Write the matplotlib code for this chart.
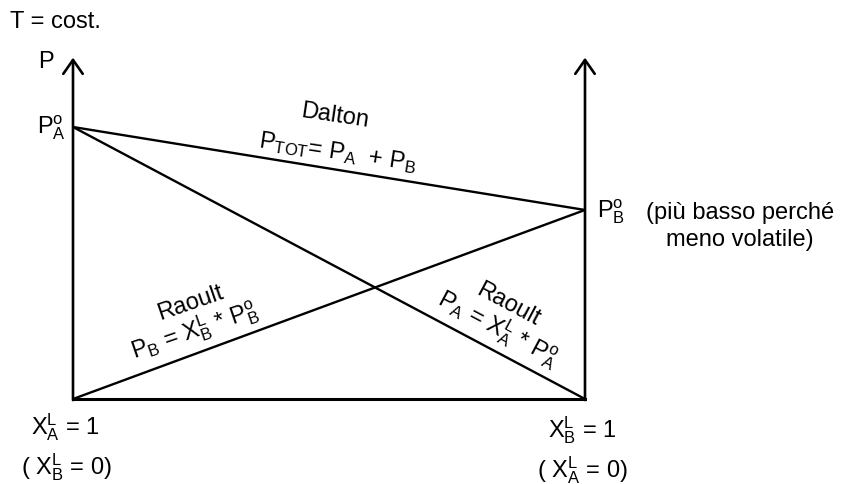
import matplotlib
matplotlib.use("Agg")
import matplotlib.pyplot as plt
import numpy as np

# ---- data (mole fraction of B on x, pressure on y) ----
x_B = [0.0, 1.0]            # X_B^L from 0 (pure A) to 1 (pure B)
P_A_star = 1.00             # vapour pressure of pure A
P_B_star = 0.695            # vapour pressure of pure B (lower, less volatile)
P_axis_top = 1.255          # top of the drawn pressure axes

plt.rcParams['font.family'] = ['Liberation Sans', 'DejaVu Sans']
plt.rcParams['mathtext.fontset'] = 'custom'
plt.rcParams['mathtext.rm'] = 'Liberation Sans'
plt.rcParams['mathtext.it'] = 'Liberation Sans'
plt.rcParams['mathtext.bf'] = 'Liberation Sans:bold'
plt.rcParams['mathtext.default'] = 'regular'

W, H = 851, 485
fig = plt.figure(figsize=(W / 100, H / 100), dpi=100)
L, R, B0, PT = 73, 585, 400, 128  # pixel frame of the diagram
ax = fig.add_axes([L / W, (H - B0) / H, (R - L) / W, (B0 - PT) / H])
ax.set_xlim(0, 1)
ax.set_ylim(0, 1)
ax.axis('off')

def dx(px):
    return (px - L) / (R - L)

def dy(py):
    return (B0 - py) / (B0 - PT)

FS = 17
k = 'black'
DEG = 'o'

# partial pressure lines and total
P_A = [P_A_star * (1 - xb) for xb in x_B]
P_B = [P_B_star * xb for xb in x_B]
P_tot = [a + b for a, b in zip(P_A, P_B)]
ax.plot(x_B, P_A, color=k, lw=1.7, clip_on=False, solid_capstyle='butt')
ax.plot(x_B, P_B, color=k, lw=1.7, clip_on=False, solid_capstyle='butt')
ax.plot(x_B, P_tot, color=k, lw=1.7, clip_on=False, solid_capstyle='butt')
# bottom baseline
ax.plot(x_B, [0, 0], color=k, lw=2.2, clip_on=False, solid_capstyle='projecting')

# vertical axes with open arrowheads
for xv in x_B:
    ax.annotate('', xy=(xv, P_axis_top), xytext=(xv, -0.004), xycoords='data',
                arrowprops=dict(arrowstyle='->,head_length=0.5,head_width=0.35',
                                lw=1.9, color=k, mutation_scale=20,
                                shrinkA=0, shrinkB=0),
                annotation_clip=False)

# texts
ax.text(dx(10), dy(22), 'T = cost.', fontsize=FS, ha='left', va='center')
ax.text(dx(46), dy(62), 'P', fontsize=FS, ha='center', va='center')
ax.text(dx(37), dy(128), r'$P_A^{' + DEG + '}$', fontsize=FS, ha='left', va='center')
ax.text(dx(597), dy(212), r'$P_B^{' + DEG + '}$', fontsize=FS, ha='left', va='center')
ax.text(dx(740), dy(213), '(più basso perché', fontsize=FS, ha='center', va='center')
ax.text(dx(740), dy(240), 'meno volatile)', fontsize=FS, ha='center', va='center')

ax.text(dx(335), dy(116), 'Dalton', fontsize=FS, ha='center', va='center', rotation=-8.5)
ax.text(dx(338), dy(152), r'$P_{TOT}$= $P_A$  + $P_B$', fontsize=FS, ha='center',
        va='center', rotation=-8.5)

ax.text(dx(190), dy(303), 'Raoult', fontsize=FS, ha='center', va='center', rotation=19)
ax.text(dx(195), dy(330), r'$P_B$ = $X_B^L$ * $P_B^{' + DEG + '}$', fontsize=FS,
        ha='center', va='center', rotation=19)

ax.text(dx(508), dy(305), 'Raoult', fontsize=FS, ha='center', va='center', rotation=-28)
ax.text(dx(498), dy(328), r'$P_A$ = $X_A^L$ * $P_A^{' + DEG + '}$', fontsize=FS,
        ha='center', va='center', rotation=-28)

ax.text(dx(65), dy(427), r'$X_A^L$ = 1', fontsize=FS, ha='center', va='center')
ax.text(dx(66), dy(467), r'( $X_B^L$ = 0)', fontsize=FS, ha='center', va='center')
ax.text(dx(582), dy(430), r'$X_B^L$ = 1', fontsize=FS, ha='center', va='center')
ax.text(dx(582), dy(470), r'( $X_A^L$ = 0)', fontsize=FS, ha='center', va='center')

fig.savefig('out.png', dpi=100)
